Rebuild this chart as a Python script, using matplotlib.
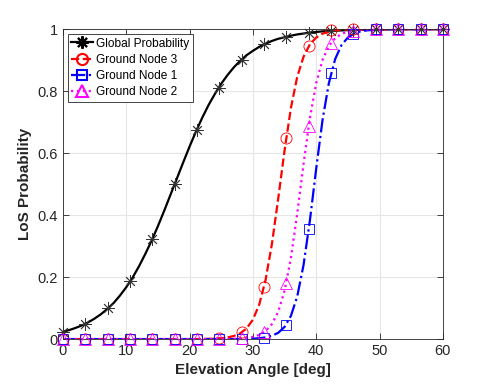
import numpy as np
import matplotlib
matplotlib.use('Agg')
import matplotlib.pyplot as plt

font = {'size': 10, 'family': 'Liberation Sans'}
matplotlib.rc('font', **font)

# line samples (deg) and values
ang = np.arange(0, 61, 1)
p_global = [0.024, 0.029, 0.036, 0.044, 0.054, 0.066, 0.080, 0.097, 0.116, 0.140,
            0.167, 0.198, 0.234, 0.274, 0.317, 0.364, 0.414, 0.466, 0.518, 0.570,
            0.621, 0.669, 0.714, 0.755, 0.791, 0.824, 0.852, 0.877, 0.898, 0.916,
            0.930, 0.943, 0.953, 0.962, 0.969, 0.974, 0.979, 0.983, 0.986, 0.989,
            0.991, 0.993, 0.994, 0.995, 0.996, 0.997, 0.997, 0.998, 0.998, 0.999,
            0.999, 0.999, 1.0, 1.0, 1.0, 1.0, 1.0, 1.0, 1.0, 1.0, 1.0]
p_node3 = [0.0]*22 + [0.0004, 0.0008, 0.0015, 0.0028, 0.0053, 0.010, 0.0185, 0.034,
           0.0625, 0.111, 0.190, 0.306, 0.453, 0.608, 0.745, 0.846, 0.911, 0.951,
           0.973, 0.9855, 0.992, 0.996, 0.998, 0.999] + [1.0]*15
p_node2 = [0.0]*27 + [0.001, 0.0019, 0.0037, 0.0071, 0.0135, 0.0256, 0.048, 0.088,
           0.156, 0.261, 0.404, 0.565, 0.713, 0.826, 0.901, 0.946, 0.971, 0.985,
           0.992, 0.996, 0.998, 0.999] + [1.0]*12
p_node1 = [0.0]*30 + [0.0014, 0.0027, 0.0053, 0.0104, 0.0202, 0.0392, 0.0745, 0.137,
           0.239, 0.382, 0.550, 0.707, 0.826, 0.904, 0.949, 0.973, 0.986, 0.993,
           0.996, 0.998, 0.999] + [1.0]*10

# marker samples
ang_m = np.linspace(0, 60, 18)
m_global = [0.024, 0.05, 0.099, 0.187, 0.322, 0.499, 0.675, 0.81, 0.90,
            0.952, 0.976, 0.988, 0.994, 0.997, 0.999, 1.0, 1.0, 1.0]
m_node3 = [0, 0, 0, 0, 0, 0, 0, 0.002, 0.022, 0.168, 0.65, 0.945,
           0.996, 1.0, 1.0, 1.0, 1.0, 1.0]
m_node1 = [0, 0, 0, 0, 0, 0, 0, 0, 0, 0.003, 0.047, 0.355, 0.858,
           0.985, 0.999, 1.0, 1.0, 1.0]
m_node2 = [0, 0, 0, 0, 0, 0, 0, 0, 0.002, 0.022, 0.182, 0.689, 0.956,
           0.995, 1.0, 1.0, 1.0, 1.0]

star = (8, 2, 0)  # matlab-like asterisk
series = [
    ('Global Probability', p_global, m_global, 'k', '-', star, 9),
    ('Ground Node 3', p_node3, m_node3, '#ff0000', '--', 'o', 8),
    ('Ground Node 1', p_node1, m_node1, '#0000ff', '-.', 's', 7),
    ('Ground Node 2', p_node2, m_node2, '#ff00ff', ':', '^', 8),
]

fig = plt.figure(figsize=(4.91, 3.84), dpi=100)
ax = fig.add_axes([0.128, 0.117, 0.774, 0.807])

handles = []
for name, yl, ym, c, ls, mk, ms in series:
    ax.plot(ang, yl, color=c, linestyle=ls, linewidth=1.6)
    mc = '#333333' if c == 'k' else c
    ax.plot(ang_m, ym, linestyle='none', marker=mk, markersize=ms,
            markerfacecolor='none', markeredgecolor=mc, markeredgewidth=0.6,
            clip_on=False, zorder=3)
    h, = ax.plot([], [], color=c, linestyle=ls, linewidth=1.6, marker=mk,
                 markersize=ms, markerfacecolor='none', markeredgecolor=c,
                 markeredgewidth=1.5, label=name)
    handles.append(h)

ax.set_xlim(0, 60)
ax.set_ylim(0, 1)
ax.set_xticks([0, 10, 20, 30, 40, 50, 60])
ax.set_yticks([0, 0.2, 0.4, 0.6, 0.8, 1])
ax.set_yticklabels(['0', '0.2', '0.4', '0.6', '0.8', '1'])
ax.grid(True, color='#e6e6e6', linewidth=0.8)
ax.set_axisbelow(True)
ax.tick_params(direction='in', top=True, right=True, colors='#262626',
               labelsize=10.5, length=4, width=0.6)
for s in ax.spines.values():
    s.set_color('#262626')
    s.set_linewidth(0.6)
ax.set_xlabel('Elevation Angle [deg]', fontsize=11, fontweight='bold', color='#262626')
ax.set_ylabel('LoS Probability', fontsize=11, fontweight='bold', color='#262626')

leg = ax.legend(handles=handles, loc='upper left', fontsize=8.6, fancybox=False,
                edgecolor='#262626', framealpha=1, borderpad=0.3,
                labelspacing=0.35, handlelength=1.8, handletextpad=0.3,
                borderaxespad=0.4)
leg.get_frame().set_linewidth(0.6)

plt.savefig('out.png', dpi=100)
plt.close()
